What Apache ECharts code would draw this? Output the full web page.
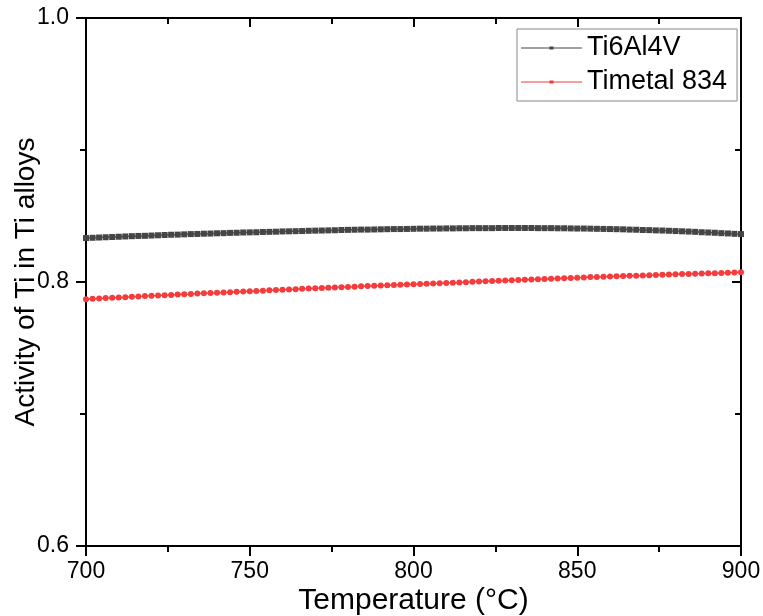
<!DOCTYPE html>
<html>
<head>
<meta charset="utf-8">
<script src="https://cdn.jsdelivr.net/npm/echarts@6/dist/echarts.min.js"></script>
<style>
html, body { margin: 0; padding: 0; background: #fff; }
#main { width: 763px; height: 616px; }
</style>
</head>
<body>
<div id="main"></div>
<script>
// temperatures (°C)
var temps = [700, 702, 704, 706, 708, 710, 712, 714, 716, 718, 720, 722, 724, 726, 728, 730, 732, 734, 736, 738, 740,
	742, 744, 746, 748, 750, 752, 754, 756, 758, 760, 762, 764, 766, 768, 770, 772, 774, 776, 778, 780,
	782, 784, 786, 788, 790, 792, 794, 796, 798, 800, 802, 804, 806, 808, 810, 812, 814, 816, 818, 820,
	822, 824, 826, 828, 830, 832, 834, 836, 838, 840, 842, 844, 846, 848, 850, 852, 854, 856, 858, 860,
	862, 864, 866, 868, 870, 872, 874, 876, 878, 880, 882, 884, 886, 888, 890, 892, 894, 896, 898, 900];

// Ti6Al4V activity
var ti64 = [0.8333, 0.8335, 0.8337, 0.8339, 0.8341, 0.8343,
	0.8345, 0.8347, 0.8349, 0.8350, 0.8352,
	0.8354, 0.8356, 0.8358, 0.8359, 0.8361,
	0.8363, 0.8364, 0.8366, 0.8367, 0.8369,
	0.8370, 0.8372, 0.8373, 0.8375, 0.8376,
	0.8377, 0.8379, 0.8380, 0.8381, 0.8383,
	0.8384, 0.8385, 0.8386, 0.8388, 0.8389,
	0.8390, 0.8391, 0.8392, 0.8394, 0.8395,
	0.8396, 0.8397, 0.8397, 0.8398, 0.8399,
	0.8400, 0.8401, 0.8401, 0.8402, 0.8403,
	0.8404, 0.8404, 0.8405, 0.8405, 0.8406,
	0.8406, 0.8407, 0.8407, 0.8408, 0.8408,
	0.8408, 0.8408, 0.8409, 0.8409, 0.8409,
	0.8409, 0.8409, 0.8409, 0.8408, 0.8408,
	0.8408, 0.8407, 0.8407, 0.8406, 0.8405,
	0.8405, 0.8404, 0.8403, 0.8402, 0.8401,
	0.8400, 0.8399, 0.8397, 0.8396, 0.8394,
	0.8393, 0.8391, 0.8390, 0.8388, 0.8386,
	0.8384, 0.8382, 0.8380, 0.8377, 0.8375,
	0.8373, 0.8370, 0.8368, 0.8365, 0.8363];

// Timetal 834 activity
var timetal = [0.7870, 0.7873, 0.7875, 0.7878, 0.7880, 0.7883,
	0.7885, 0.7888, 0.7890, 0.7893, 0.7895,
	0.7897, 0.7900, 0.7902, 0.7905, 0.7907,
	0.7909, 0.7912, 0.7914, 0.7917, 0.7919,
	0.7921, 0.7923, 0.7926, 0.7928, 0.7930,
	0.7932, 0.7934, 0.7937, 0.7939, 0.7941,
	0.7943, 0.7945, 0.7948, 0.7950, 0.7952,
	0.7954, 0.7956, 0.7958, 0.7960, 0.7962,
	0.7964, 0.7967, 0.7969, 0.7971, 0.7973,
	0.7975, 0.7977, 0.7979, 0.7981, 0.7983,
	0.7985, 0.7987, 0.7989, 0.7991, 0.7993,
	0.7995, 0.7997, 0.7999, 0.8001, 0.8003,
	0.8005, 0.8007, 0.8009, 0.8011, 0.8013,
	0.8015, 0.8017, 0.8019, 0.8021, 0.8023,
	0.8025, 0.8027, 0.8029, 0.8031, 0.8033,
	0.8035, 0.8037, 0.8038, 0.8040, 0.8042,
	0.8044, 0.8045, 0.8047, 0.8048, 0.8050,
	0.8052, 0.8053, 0.8055, 0.8056, 0.8058,
	0.8060, 0.8061, 0.8063, 0.8064, 0.8066,
	0.8067, 0.8069, 0.8070, 0.8072, 0.8073];

var seriesNames = ['Ti6Al4V', 'Timetal 834'];

function pairs(xs, ys) {
	var out = [];
	for (var i = 0; i < xs.length; i++) {
		out.push([xs[i], ys[i]]);
	}
	return out;
}

var font = 'Liberation Sans, Arial, sans-serif';
var axisLine = { lineStyle: { color: '#000', width: 2 } };
var legendIcon = 'path://M0,4L28,4L28,3L32,3L32,4L60,4L60,5L32,5L32,6L28,6L28,5L0,5Z';

var myChart = echarts.init(document.getElementById('main'));
var option = {
	animation: false,
	textStyle: { fontFamily: font },
	grid: { left: 86, right: 22, top: 18, bottom: 70, outerBoundsMode: 'none', containLabel: false },
	legend: {
		data: [
			{ name: seriesNames[0], icon: legendIcon },
			{ name: seriesNames[1], icon: legendIcon }
		],
		orient: 'vertical',
		left: 517,
		top: 29,
		itemWidth: 61,
		itemHeight: 8,
		itemGap: 4,
		padding: [4, 10, 4, 4],
		borderColor: '#888',
		borderWidth: 1,
		textStyle: { fontSize: 27, lineHeight: 30, color: '#000', fontFamily: font }
	},
	xAxis: [{
		type: 'value',
		min: 700,
		max: 900,
		interval: 50,
		name: 'Temperature (\u00B0C)',
		nameLocation: 'middle',
		nameGap: 40,
		nameMoveOverlap: false,
		nameTextStyle: { fontSize: 30, color: '#000' },
		axisLine: axisLine,
		axisTick: { length: 10, lineStyle: { width: 2, color: '#000' } },
		minorTick: { show: true, splitNumber: 2, length: 6, lineStyle: { width: 2, color: '#000' } },
		axisLabel: { fontSize: 23, color: '#000', margin: 14 },
		splitLine: { show: false }
	}, {
		type: 'value',
		position: 'top',
		min: 700,
		max: 900,
		interval: 50,
		axisLine: axisLine,
		axisTick: { inside: true, length: 9, lineStyle: { width: 2, color: '#000' } },
		minorTick: { show: true, splitNumber: 2, length: 6, lineStyle: { width: 2, color: '#000' } },
		axisLabel: { show: false },
		splitLine: { show: false }
	}],
	yAxis: [{
		type: 'value',
		min: 0.6,
		max: 1.0,
		interval: 0.2,
		name: 'Activity of Ti in Ti alloys',
		nameLocation: 'middle',
		nameGap: 46,
		nameMoveOverlap: false,
		nameTextStyle: { fontSize: 28, color: '#000' },
		axisLine: axisLine,
		axisTick: { length: 10, lineStyle: { width: 2, color: '#000' } },
		minorTick: { show: true, splitNumber: 2, length: 6, lineStyle: { width: 2, color: '#000' } },
		axisLabel: { fontSize: 23, color: '#000', margin: 17, formatter: function(v) { return v.toFixed(1); } },
		splitLine: { show: false }
	}, {
		type: 'value',
		position: 'right',
		min: 0.6,
		max: 1.0,
		interval: 0.2,
		axisLine: axisLine,
		axisTick: { inside: true, length: 9, lineStyle: { width: 2, color: '#000' } },
		minorTick: { show: true, splitNumber: 2, length: 6, lineStyle: { width: 2, color: '#000' } },
		axisLabel: { show: false },
		splitLine: { show: false }
	}],
	series: [{
		name: seriesNames[0],
		type: 'line',
		symbol: 'rect',
		symbolSize: 6,
		showAllSymbol: true,
		color: '#454545',
		lineStyle: { width: 1.5, color: '#555555' },
		itemStyle: { color: '#454545' },
		data: pairs(temps, ti64)
	}, {
		name: seriesNames[1],
		type: 'line',
		symbol: 'circle',
		symbolSize: 6,
		showAllSymbol: true,
		color: '#f53b3b',
		lineStyle: { width: 1.5, color: '#f54848' },
		itemStyle: { color: '#f53b3b' },
		data: pairs(temps, timetal)
	}]
};
myChart.setOption(option);
</script>
</body>
</html>
